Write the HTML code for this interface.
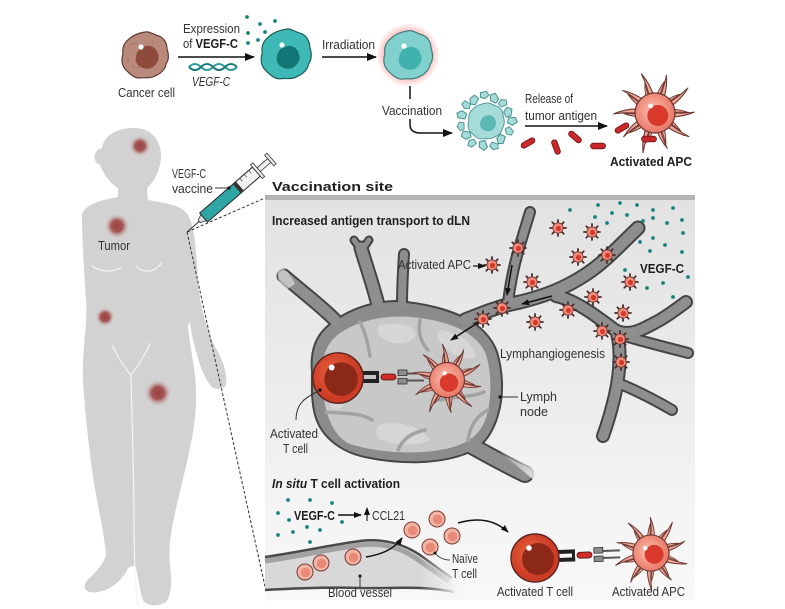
<!DOCTYPE html>
<html><head><meta charset="utf-8">
<style>
html,body{margin:0;padding:0;background:#fff;}
svg{display:block;}
text{font-family:"Liberation Sans Narrow","Liberation Sans",sans-serif;fill:#333;font-size:12.5px;}
.b{font-weight:bold;fill:#1e1e1e;}
</style></head><body>
<svg width="785" height="609" viewBox="0 0 785 609" xmlns="http://www.w3.org/2000/svg">
<defs>
 <radialGradient id="tum"><stop offset="0" stop-color="#974242"/><stop offset="0.45" stop-color="#a65454"/><stop offset="1" stop-color="#d3d3d3" stop-opacity="0"/></radialGradient>
 <radialGradient id="glow"><stop offset="0.62" stop-color="#f06868" stop-opacity="0.6"/><stop offset="1" stop-color="#f06868" stop-opacity="0"/></radialGradient>
 <radialGradient id="apcb" cx="0.45" cy="0.45"><stop offset="0" stop-color="#fac3b4"/><stop offset="1" stop-color="#ec7d6c"/></radialGradient>
 <radialGradient id="tcg" cx="0.4" cy="0.4"><stop offset="0" stop-color="#e8603c"/><stop offset="1" stop-color="#cc3b26"/></radialGradient>
 <linearGradient id="pan" x1="0" y1="0" x2="0" y2="1"><stop offset="0" stop-color="#e2e2e2"/><stop offset="0.5" stop-color="#ececec"/><stop offset="0.68" stop-color="#f2f2f2"/><stop offset="1" stop-color="#f8f8f8"/></linearGradient>
 <linearGradient id="fade" x1="0" y1="0" x2="1" y2="0"><stop offset="0" stop-color="#f6f6f6" stop-opacity="0"/><stop offset="1" stop-color="#f6f6f6" stop-opacity="1"/></linearGradient>
 <linearGradient id="fade2" x1="0" y1="0" x2="1" y2="1"><stop offset="0" stop-color="#f1f1f1" stop-opacity="0"/><stop offset="1" stop-color="#f1f1f1" stop-opacity="1"/></linearGradient>
 <marker id="ah" markerWidth="10" markerHeight="8" refX="9" refY="4" orient="auto" markerUnits="userSpaceOnUse"><path d="M0,0L10,4L0,8Z" fill="#111"/></marker>
 <marker id="as" markerWidth="8" markerHeight="6" refX="7" refY="3" orient="auto" markerUnits="userSpaceOnUse"><path d="M0,0L8,3L0,6Z" fill="#111"/></marker>
 <path id="blob" d="M0,-23 C5,-24 9,-20 14,-19 C19,-17 22,-12 22,-6 C24,-1 24,5 21,9 C20,15 15,19 10,21 C5,24 -1,22 -6,23 C-11,23 -15,19 -19,15 C-23,11 -24,5 -22,-1 C-23,-7 -21,-12 -16,-16 C-12,-20 -6,-22 0,-23 Z"/>
 <path id="nuc" d="M0,-11 C5,-12 10,-8 11,-3 C13,2 10,7 6,10 C2,13 -4,12 -8,9 C-12,6 -12,0 -10,-4 C-8,-9 -4,-10 0,-11 Z"/>
 <path id="frag" d="M-3,-2 L2,-3 L4,0 L1,3 L-3,2 Z" fill="#a5dcd9" stroke="#4f9492" stroke-width="0.8" stroke-linejoin="round"/>
 <path id="spk" d="M8,-2 C18,-2.2 27,-3 37,-6 C28,-0.5 19,2 8,2 Z" fill="#f2a593" stroke="#6a3834" stroke-width="1" stroke-linejoin="round"/>
 <g id="sa">
  <path d="M-8,0L8,0M0,-8L0,8M-5.7,-5.7L5.7,5.7M-5.7,5.7L5.7,-5.7" stroke="#4a2c2a" stroke-width="1.8" stroke-linecap="round"/>
  <circle r="5.2" fill="#ef8d7b" stroke="#7a3833" stroke-width="0.8"/>
  <circle r="2.6" cx="0.5" cy="0.5" fill="#d63a2c"/>
 </g>
 <g id="ba">
  <use href="#spk" transform="rotate(0) scale(1)"/>
  <use href="#spk" transform="rotate(18) scale(0.8,-0.8)"/>
  <use href="#spk" transform="rotate(36) scale(1.05)"/>
  <use href="#spk" transform="rotate(54) scale(0.85,-0.85)"/>
  <use href="#spk" transform="rotate(72) scale(0.95)"/>
  <use href="#spk" transform="rotate(90) scale(0.8,-0.8)"/>
  <use href="#spk" transform="rotate(108) scale(1.05)"/>
  <use href="#spk" transform="rotate(126) scale(0.85,-0.85)"/>
  <use href="#spk" transform="rotate(144) scale(1)"/>
  <use href="#spk" transform="rotate(162) scale(0.8,-0.8)"/>
  <use href="#spk" transform="rotate(180) scale(1.05)"/>
  <use href="#spk" transform="rotate(198) scale(0.85,-0.85)"/>
  <use href="#spk" transform="rotate(216) scale(1)"/>
  <use href="#spk" transform="rotate(234) scale(0.8,-0.8)"/>
  <use href="#spk" transform="rotate(252) scale(1.05)"/>
  <use href="#spk" transform="rotate(270) scale(0.85,-0.85)"/>
  <use href="#spk" transform="rotate(288) scale(1)"/>
  <use href="#spk" transform="rotate(306) scale(0.8,-0.8)"/>
  <use href="#spk" transform="rotate(324) scale(1.05)"/>
  <use href="#spk" transform="rotate(342) scale(0.85,-0.85)"/>
  <circle r="19" fill="url(#apcb)" stroke="#6a3834" stroke-width="1.2"/>
  <circle cx="3" cy="2" r="10" fill="#d93a2c"/>
  <circle cx="-5" cy="-6" r="2.3" fill="#fff"/>
 </g>
 <g id="tc">
  <circle r="24" fill="url(#tcg)" stroke="#5a2620" stroke-width="1.4"/>
  <circle cx="3" cy="1" r="16" fill="#8c2818"/>
  <circle cx="-6" cy="-10" r="2.8" fill="#fff"/>
 </g>
 <g id="rc">
  <path d="M44,-3.5L62,-3.5M44,3.5L62,3.5" stroke="#555" stroke-width="2"/>
  <rect x="0" y="-6" width="17" height="4" fill="#222"/>
  <rect x="0" y="2" width="17" height="4" fill="#222"/>
  <rect x="14" y="-6" width="3" height="12" fill="#222"/>
  <rect x="19" y="-3" width="15" height="6" rx="3" fill="#cf2b2b" stroke="#4a1010" stroke-width="0.8"/>
  <rect x="36" y="-7" width="9" height="5.5" fill="#8d8d8d" stroke="#333" stroke-width="0.8"/>
  <rect x="36" y="1.5" width="9" height="5.5" fill="#8d8d8d" stroke="#333" stroke-width="0.8"/>
 </g>
 <rect id="pill" x="-7.5" y="-2.8" width="15" height="5.6" rx="2.8" fill="#c8282a" stroke="#6a1414" stroke-width="0.8"/>
 <g id="nc">
  <circle r="8" fill="#f2b5a5" stroke="#7b3b31" stroke-width="1"/>
  <circle r="4.8" cx="0.5" cy="0.5" fill="#e98a78"/>
 </g>
</defs>

<!-- ========== BODY ========== -->
<path fill="#d2d2d2" d="M133,128 C150,127 162,140 161,158 C160,172 153,183 147,188 L148,200 C165,203 182,205 188,215 C196,230 196,255 198,280 C200,310 208,330 214,345 C220,355 228,370 226,385 C222,392 212,390 208,382 C204,375 200,366 198,358 C194,345 191,332 190,322 L188,325 C189,345 197,372 196,400 C196,430 185,470 178,500 C172,525 168,545 170,565 C172,580 172,595 166,602 C158,607 145,607 142,598 C140,590 138,575 135,565 L128,568 C124,578 112,590 98,592 C88,594 82,590 86,582 C92,575 102,568 106,555 C104,530 96,500 92,470 C88,440 84,400 83,380 C82,350 88,320 86,300 C84,270 82,240 82,215 C84,205 100,200 118,197 L118,188 C108,182 103,172 100,165 C92,162 93,150 102,148 C104,135 118,128 133,128 Z"/>
<g fill="none" stroke="#f4f4f4" stroke-width="1.2">
 <path d="M92,266 C100,272 112,273 122,267"/>
 <path d="M136,266 C142,273 155,274 162,262"/>
 <path d="M112,345 C118,358 125,368 131,375 C138,366 145,356 150,343"/>
 <path d="M131,375 C132,420 134,480 134,520 C134,560 136,590 138,607"/>
</g>
<circle cx="140" cy="146" r="11" fill="url(#tum)"/>
<circle cx="117" cy="226" r="13" fill="url(#tum)"/>
<circle cx="105" cy="317" r="10" fill="url(#tum)"/>
<circle cx="158" cy="393" r="14" fill="url(#tum)"/>
<text x="98" y="250" textLength="32" lengthAdjust="spacingAndGlyphs" font-size="13">Tumor</text>

<path d="M187,232 L265,198 M187,232 L268,600" stroke="#333" stroke-width="1" stroke-dasharray="3,2" fill="none"/>

<g transform="translate(187,232) rotate(-41)">
 <line x1="0" y1="0" x2="16" y2="0" stroke="#333" stroke-width="1"/>
 <path d="M16,-1.5 L22,-4 L22,4 L16,1.5 Z" fill="#ddd" stroke="#333" stroke-width="0.8"/>
 <rect x="22" y="-6" width="46" height="12" fill="#2ea7a4" stroke="#2a2a2a" stroke-width="1"/>
 <rect x="68" y="-6" width="24" height="12" fill="#f2f2f2" stroke="#2a2a2a" stroke-width="1"/>
 <rect x="66" y="-6" width="4" height="12" fill="#333"/>
 <path d="M75,-6V-2M81,-6V-2M87,-6V-2" stroke="#555" stroke-width="0.7"/>
 <rect x="92" y="-9" width="3" height="18" fill="#eee" stroke="#333" stroke-width="0.8"/>
 <rect x="95" y="-2.5" width="14" height="5" fill="#eee" stroke="#333" stroke-width="0.8"/>
 <rect x="109" y="-7" width="3" height="14" fill="#eee" stroke="#333" stroke-width="0.8"/>
</g>
<text x="172" y="178" textLength="34" lengthAdjust="spacingAndGlyphs" font-size="13">VEGF-C</text>
<text x="172" y="193" textLength="41" lengthAdjust="spacingAndGlyphs" font-size="13">vaccine</text>
<line x1="215" y1="188" x2="229" y2="188" stroke="#333" stroke-width="1"/>
<circle cx="229" cy="188" r="1.6" fill="#111"/>

<!-- ========== TOP ROW ========== -->
<use href="#blob" transform="translate(145,55)" fill="#b9897c" stroke="#5b3d35" stroke-width="1.2"/>
<path d="M130,45 q4,-3 8,0 t8,0 M132,66 q4,3 8,0 t8,0 M152,40 q3,3 0,6 M127,57 q3,3 0,6" stroke="#a27465" stroke-width="0.8" fill="none"/>
<use href="#nuc" transform="translate(147,57)" fill="#8e4b3c"/>
<circle cx="141" cy="47" r="2.6" fill="#fff"/>
<text x="118" y="97" textLength="57" lengthAdjust="spacingAndGlyphs" font-size="13">Cancer cell</text>

<text x="183" y="33" textLength="57" lengthAdjust="spacingAndGlyphs" font-size="13">Expression</text>
<text x="183" y="48" textLength="55" lengthAdjust="spacingAndGlyphs" font-size="13">of <tspan class="b">VEGF-C</tspan></text>
<line x1="178" y1="57" x2="254" y2="57" stroke="#111" stroke-width="1.6" marker-end="url(#ah)"/>
<path d="M189,67 q6,-6 12,0 t12,0 t12,0 t12,0" stroke="#2a9d9a" stroke-width="2" fill="none"/>
<path d="M189,67 q6,6 12,0 t12,0 t12,0 t12,0" stroke="#1b7a77" stroke-width="2" fill="none"/>
<text x="192" y="86" textLength="38" lengthAdjust="spacingAndGlyphs" font-size="12.5" font-style="italic">VEGF-C</text>
<g fill="#18837f">
 <circle cx="247" cy="17" r="1.9"/><circle cx="260" cy="24" r="1.9"/><circle cx="275" cy="21" r="1.9"/>
 <circle cx="248" cy="33" r="1.9"/><circle cx="265" cy="32" r="1.9"/><circle cx="248" cy="43" r="1.9"/><circle cx="258" cy="40" r="1.9"/>
</g>

<use href="#blob" transform="translate(286,54) scale(1.08)" fill="#3eb9b5" stroke="#1e5b5a" stroke-width="1.1"/>
<use href="#nuc" transform="translate(288,57)" fill="#127675"/>
<circle cx="282" cy="45" r="2.6" fill="#fff"/>

<text x="322" y="49" textLength="53" lengthAdjust="spacingAndGlyphs" font-size="13">Irradiation</text>
<line x1="322" y1="57" x2="376" y2="57" stroke="#111" stroke-width="1.6" marker-end="url(#ah)"/>

<circle cx="408" cy="55" r="32" fill="url(#glow)"/>
<use href="#blob" transform="translate(408,55) scale(1.05)" fill="#82d0cd" stroke="#3a7a78" stroke-width="1.1"/>
<use href="#nuc" transform="translate(410,58)" fill="#3fb2ae"/>
<circle cx="404" cy="46" r="2.6" fill="#fff"/>

<line x1="410" y1="86" x2="410" y2="99" stroke="#111" stroke-width="1.5"/>
<text x="382" y="115" textLength="60" lengthAdjust="spacingAndGlyphs" font-size="13">Vaccination</text>
<path d="M410,119 L410,125 C410,130 414,133 420,133 L452,133" stroke="#111" stroke-width="1.5" fill="none" marker-end="url(#ah)"/>

<use href="#frag" transform="translate(512,121) rotate(10) scale(1.35)"/>
<use href="#frag" transform="translate(509,131) rotate(60) scale(1.2)"/>
<use href="#frag" transform="translate(501,139) rotate(120) scale(1.35)"/>
<use href="#frag" transform="translate(494,146) rotate(30) scale(1.2)"/>
<use href="#frag" transform="translate(483,145) rotate(80) scale(1.35)"/>
<use href="#frag" transform="translate(472,143) rotate(150) scale(1.2)"/>
<use href="#frag" transform="translate(466,135) rotate(20) scale(1.35)"/>
<use href="#frag" transform="translate(461,126) rotate(100) scale(1.2)"/>
<use href="#frag" transform="translate(462,115) rotate(200) scale(1.35)"/>
<use href="#frag" transform="translate(466,105) rotate(45) scale(1.2)"/>
<use href="#frag" transform="translate(474,100) rotate(130) scale(1.35)"/>
<use href="#frag" transform="translate(484,95) rotate(0) scale(1.2)"/>
<use href="#frag" transform="translate(494,98) rotate(70) scale(1.35)"/>
<use href="#frag" transform="translate(503,103) rotate(170) scale(1.2)"/>
<use href="#frag" transform="translate(508,112) rotate(110) scale(1.35)"/>
<use href="#blob" transform="translate(486,121) scale(0.78)" fill="#a5dcd9" stroke="#4f9492" stroke-width="1.2"/>
<use href="#nuc" transform="translate(488,123) scale(0.7)" fill="#5cb8b4"/>

<text x="525" y="103" textLength="48" lengthAdjust="spacingAndGlyphs" font-size="13">Release of</text>
<text x="525" y="120" textLength="72" lengthAdjust="spacingAndGlyphs" font-size="13">tumor antigen</text>
<line x1="525" y1="126" x2="607" y2="126" stroke="#111" stroke-width="1.5" marker-end="url(#ah)"/>

<use href="#pill" transform="translate(528,143) rotate(-30)"/>
<use href="#pill" transform="translate(556,147) rotate(70)"/>
<use href="#pill" transform="translate(575,137) rotate(40)"/>
<use href="#pill" transform="translate(598,146) rotate(0)"/>
<use href="#ba" transform="translate(655,113) scale(1.05) rotate(8)"/>
<use href="#pill" transform="translate(622,128) rotate(-30)"/>
<use href="#pill" transform="translate(649,139) rotate(0)"/>
<text x="610" y="166" class="b" textLength="82" lengthAdjust="spacingAndGlyphs" font-size="13">Activated APC</text>

<!-- ========== PANEL ========== -->
<text x="272" y="191" class="b" textLength="121" lengthAdjust="spacingAndGlyphs" font-size="18">Vaccination site</text>
<rect x="265" y="197" width="430" height="403" fill="url(#pan)"/>
<rect x="265" y="195" width="430" height="5" fill="#b3b3b3"/>
<text x="272" y="225" class="b" textLength="198" lengthAdjust="spacingAndGlyphs" font-size="12.5">Increased antigen transport to dLN</text>

<g fill="none" stroke="#454545" stroke-linecap="round" stroke-linejoin="round">
 <path stroke-width="15" d="M465,320 C485,312 500,306 520,302 C545,296 565,288 585,275 C605,262 620,245 638,228"/>
 <path stroke-width="12" d="M508,303 C510,285 514,265 520,245 C524,232 527,222 530,212"/>
 <path stroke-width="14" d="M556,296 C575,300 595,315 615,330 C630,338 645,328 660,320 C670,314 678,308 686,302"/>
 <path stroke-width="14" d="M617,333 C621,350 620,372 615,395 C611,412 607,425 603,436"/>
 <path stroke-width="12" d="M618,383 C635,390 655,400 672,410"/>
 <path stroke-width="12" d="M628,337 C645,342 665,347 688,353"/>
 <path stroke-width="15" d="M335,320 C320,305 300,290 284,276"/>
 <path stroke-width="15" d="M378,305 C373,285 366,265 361,248"/>
 <path stroke-width="9" d="M361,250 L354,240 M362,250 L369,240"/>
 <path stroke-width="12" d="M402,305 C402,290 403,270 404,254"/>
 <path stroke-width="18" d="M470,445 C490,456 508,466 525,474"/>
</g>
<path fill="#8b8b8b" stroke="#454545" stroke-width="2" d="M312,372 C310,350 316,335 330,324 C345,312 365,302 395,301 C425,303 450,310 465,318 C480,325 492,338 497,352 C503,372 504,395 498,415 C493,432 485,445 470,452 C440,465 400,464 370,458 C345,454 322,440 315,415 C311,400 312,385 312,372 Z"/>
<g fill="none" stroke="#8e8e8e" stroke-linecap="round" stroke-linejoin="round">
 <path stroke-width="11" d="M465,320 C485,312 500,306 520,302 C545,296 565,288 585,275 C605,262 620,245 638,228"/>
 <path stroke-width="8" d="M508,303 C510,285 514,265 520,245 C524,232 527,222 530,212"/>
 <path stroke-width="10" d="M556,296 C575,300 595,315 615,330 C630,338 645,328 660,320 C670,314 678,308 686,302"/>
 <path stroke-width="10" d="M617,333 C621,350 620,372 615,395 C611,412 607,425 603,436"/>
 <path stroke-width="8" d="M618,383 C635,390 655,400 672,410"/>
 <path stroke-width="8" d="M628,337 C645,342 665,347 688,353"/>
 <path stroke-width="11" d="M335,320 C320,305 300,290 284,276"/>
 <path stroke-width="11" d="M378,305 C373,285 366,265 361,248"/>
 <path stroke-width="5" d="M361,250 L354,240 M362,250 L369,240"/>
 <path stroke-width="8" d="M402,305 C402,290 403,270 404,254"/>
 <path stroke-width="14" d="M470,445 C490,456 508,466 525,474"/>
</g>
<path d="M500,452 L540,485 L540,440 Z" fill="url(#fade2)"/>
<path d="M278,266 C285,268 292,276 295,284 L283,292 C280,285 276,276 278,266 Z" fill="#e6e6e6" opacity="0.6"/>
<path fill="#c8c8c8" d="M322,372 C322,352 330,338 345,330 C365,318 395,314 420,318 C450,322 475,332 485,352 C492,370 492,400 486,418 C480,436 465,446 440,450 C410,455 375,452 350,444 C332,436 322,410 322,372 Z"/>
<path fill="#d6d6d6" d="M380,325 C400,322 415,325 415,335 C412,345 395,345 385,340 C378,336 375,330 380,325 Z M440,330 C458,332 472,342 476,356 C470,362 455,356 445,348 C438,342 435,334 440,330 Z M330,395 C335,385 345,388 345,400 C344,410 334,412 330,405 Z M380,425 C395,420 420,425 430,440 C420,446 395,446 382,440 C375,436 375,430 380,425 Z"/>
<g fill="none" stroke="#a2a2a2" stroke-width="3.5" stroke-linecap="round">
 <path d="M360,322 C365,332 368,342 370,356"/>
 <path d="M420,320 C418,330 420,342 428,350"/>
 <path d="M326,412 C345,414 360,412 372,420"/>
 <path d="M398,450 C402,440 410,433 425,430"/>
 <path d="M468,440 C470,425 478,415 488,410"/>
 <path d="M440,400 C455,396 470,398 484,392"/>
</g>

<g stroke="#111" stroke-width="1.5" fill="none">
 <line x1="512" y1="265" x2="507" y2="295" marker-end="url(#as)"/>
 <line x1="552" y1="296" x2="522" y2="304" marker-end="url(#as)"/>
 <line x1="482" y1="320" x2="451" y2="340" marker-end="url(#as)"/>
</g>

<use href="#sa" x="518" y="248"/><use href="#sa" x="492" y="265"/><use href="#sa" x="558" y="228"/>
<use href="#sa" x="592" y="232"/><use href="#sa" x="578" y="257"/><use href="#sa" x="607" y="255"/>
<use href="#sa" x="532" y="282"/><use href="#sa" x="630" y="282"/><use href="#sa" x="593" y="297"/>
<use href="#sa" x="502" y="308"/><use href="#sa" x="483" y="319"/><use href="#sa" x="535" y="322"/>
<use href="#sa" x="568" y="310"/><use href="#sa" x="623" y="313"/><use href="#sa" x="602" y="331"/>
<use href="#sa" x="620" y="339"/><use href="#sa" x="621" y="362"/>

<g fill="#18837f">
 <circle cx="570" cy="210" r="1.9"/><circle cx="598" cy="205" r="1.9"/><circle cx="620" cy="203" r="1.9"/><circle cx="637" cy="205" r="1.9"/>
 <circle cx="653" cy="210" r="1.9"/><circle cx="673" cy="208" r="1.9"/><circle cx="612" cy="213" r="1.9"/><circle cx="627" cy="215" r="1.9"/>
 <circle cx="653" cy="218" r="1.9"/><circle cx="643" cy="221" r="1.9"/><circle cx="667" cy="223" r="1.9"/><circle cx="682" cy="220" r="1.9"/>
 <circle cx="607" cy="223" r="1.9"/><circle cx="595" cy="217" r="1.9"/><circle cx="683" cy="233" r="1.9"/><circle cx="640" cy="242" r="1.9"/>
 <circle cx="653" cy="238" r="1.9"/><circle cx="665" cy="245" r="1.9"/><circle cx="650" cy="251" r="1.9"/><circle cx="682" cy="252" r="1.9"/>
 <circle cx="625" cy="270" r="1.9"/><circle cx="663" cy="283" r="1.9"/><circle cx="688" cy="277" r="1.9"/><circle cx="647" cy="288" r="1.9"/>
 <circle cx="673" cy="297" r="1.9"/>
</g>
<text x="640" y="273" class="b" textLength="44" lengthAdjust="spacingAndGlyphs" font-size="13">VEGF-C</text>

<use href="#rc" transform="translate(362,377)"/>
<use href="#tc" transform="translate(338,378) scale(1.05)"/>
<use href="#ba" transform="translate(447,380) scale(0.92) rotate(20)"/>

<text x="398" y="269" textLength="73" lengthAdjust="spacingAndGlyphs" font-size="12.5">Activated APC</text>
<line x1="473" y1="266" x2="485" y2="266" stroke="#111" stroke-width="1.2" marker-end="url(#as)"/>
<path d="M320,390 C310,396 296,400 296,420" stroke="#333" stroke-width="1" fill="none"/>
<circle cx="320" cy="390" r="1.6" fill="#111"/>
<text x="270" y="438" textLength="48" lengthAdjust="spacingAndGlyphs" font-size="12.5">Activated</text>
<text x="283" y="453" textLength="25" lengthAdjust="spacingAndGlyphs" font-size="12.5">T cell</text>
<text x="500" y="358" textLength="105" lengthAdjust="spacingAndGlyphs" font-size="12.5">Lymphangiogenesis</text>
<line x1="500" y1="397" x2="518" y2="397" stroke="#333" stroke-width="1"/>
<circle cx="500" cy="397" r="1.6" fill="#111"/>
<text x="520" y="401" textLength="37" lengthAdjust="spacingAndGlyphs" font-size="12.5">Lymph</text>
<text x="520" y="416" textLength="28" lengthAdjust="spacingAndGlyphs" font-size="12.5">node</text>

<!-- ========== IN SITU ========== -->
<text x="272" y="488" class="b" textLength="128" lengthAdjust="spacingAndGlyphs" font-size="12.5"><tspan font-style="italic">In situ</tspan> T cell activation</text>
<g fill="#18837f">
 <circle cx="278" cy="513" r="1.9"/><circle cx="288" cy="500" r="1.9"/><circle cx="310" cy="500" r="1.9"/><circle cx="332" cy="503" r="1.9"/>
 <circle cx="289" cy="520" r="1.9"/><circle cx="342" cy="522" r="1.9"/><circle cx="278" cy="535" r="1.9"/><circle cx="293" cy="532" r="1.9"/>
 <circle cx="307" cy="527" r="1.9"/><circle cx="320" cy="530" r="1.9"/><circle cx="310" cy="542" r="1.9"/>
</g>
<text x="294" y="520" class="b" textLength="41" lengthAdjust="spacingAndGlyphs" font-size="13">VEGF-C</text>
<line x1="338" y1="515" x2="361" y2="515" stroke="#111" stroke-width="1.5" marker-end="url(#as)"/>
<line x1="367" y1="521" x2="367" y2="508" stroke="#111" stroke-width="1.1" marker-end="url(#as)"/>
<text x="372" y="520" textLength="33" lengthAdjust="spacingAndGlyphs" font-size="13">CCL21</text>

<path fill="#d8d8d8" d="M265,557 C300,552 330,545 360,541 C385,538 405,545 420,555 C430,562 440,570 452,578 L454,592 C420,585 390,589 360,588 C330,587 300,588 265,590 Z"/>
<path d="M265,561 C300,556 330,549 360,545 C385,542 403,549 417,559 C427,566 437,573 449,581" stroke="#a2a2a2" stroke-width="5" fill="none"/>
<path d="M265,557 C300,552 330,545 360,541 C385,538 405,545 420,555 C430,562 440,570 452,578" stroke="#4a4a4a" stroke-width="2.5" fill="none"/>
<path d="M265,590 C300,588 330,587 360,588 C390,589 420,585 454,592" stroke="#4a4a4a" stroke-width="2.5" fill="none"/>
<rect x="420" y="535" width="40" height="62" fill="url(#fade)"/>
<use href="#nc" x="305" y="572"/><use href="#nc" x="321" y="563"/><use href="#nc" x="353" y="557"/>
<use href="#nc" x="412" y="530"/><use href="#nc" x="437" y="519"/><use href="#nc" x="452" y="536"/><use href="#nc" x="430" y="547"/>
<path d="M366,557 C384,554 395,548 402,538" stroke="#111" stroke-width="1.5" fill="none" marker-end="url(#as)"/>
<path d="M458,523 C478,517 495,520 508,532" stroke="#111" stroke-width="1.5" fill="none" marker-end="url(#as)"/>
<path d="M435,553 C439,558 444,560 450,560" stroke="#333" stroke-width="1" fill="none"/>
<circle cx="435" cy="553" r="1.5" fill="#111"/>
<text x="452" y="563" textLength="26" lengthAdjust="spacingAndGlyphs" font-size="12.5">Naïve</text>
<text x="452" y="578" textLength="25" lengthAdjust="spacingAndGlyphs" font-size="12.5">T cell</text>
<line x1="360" y1="576" x2="360" y2="587" stroke="#333" stroke-width="1"/>
<circle cx="360" cy="576" r="1.5" fill="#111"/>
<text x="328" y="597" textLength="64" lengthAdjust="spacingAndGlyphs" font-size="12.5">Blood vessel</text>

<use href="#rc" transform="translate(558,556) rotate(-2)"/>
<use href="#tc" transform="translate(535,558)"/>
<use href="#ba" transform="translate(651,553) scale(0.95) rotate(-10)"/>
<text x="497" y="596" textLength="76" lengthAdjust="spacingAndGlyphs" font-size="12.5">Activated T cell</text>
<text x="612" y="596" textLength="73" lengthAdjust="spacingAndGlyphs" font-size="12.5">Activated APC</text>
</svg>
</body></html>
